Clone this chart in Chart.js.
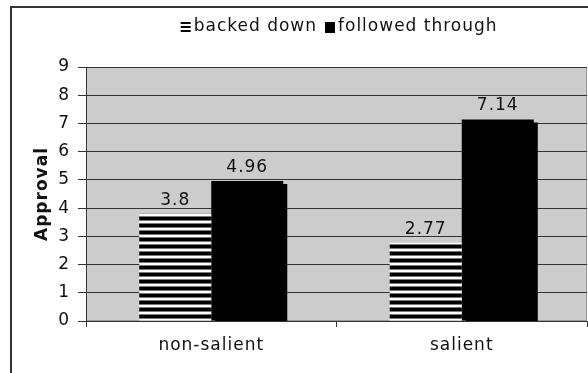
<!DOCTYPE html>
<html>
<head>
<meta charset="utf-8">
<script src="https://cdn.jsdelivr.net/npm/chart.js@4"></script>
<style>
  body { margin: 0; background: #fff; }
  /* рамка вокруг всей диаграммы (правый и нижний край за пределами окна) */
  #frame {
    position: absolute; left: 10px; top: 6px; width: 700px; height: 500px;
    border-left: 2px solid #333; border-top: 2px solid #333;
  }
  #chart { position: absolute; left: 0; top: 0; }
</style>
</head>
<body>
<div id="frame"></div>
<canvas id="chart" width="588" height="373"></canvas>
<script>
const categories = ['non-salient', 'salient'];
const seriesNames = ['backed down', 'followed through'];
const backedDown = [3.8, 2.77];
const followedThrough = [4.96, 7.14];
const yMin = 0;
const yMax = 9;

const FONT = '"DejaVu Sans", Verdana, sans-serif';
const TEXT_COLOR = '#111';

// Штриховка для серии "backed down"
function makeStripes() {
  const c = document.createElement('canvas');
  c.width = 4;
  c.height = 7;
  const g = c.getContext('2d');
  const rows = ['#000', '#000', '#000', '#777', '#fff', '#fff', '#777'];
  rows.forEach((color, i) => {
    g.fillStyle = color;
    g.fillRect(0, i, 4, 1);
  });
  return g.createPattern(c, 'repeat');
}

const ctx = document.getElementById('chart').getContext('2d');
const stripes = makeStripes();

// Разрядка букв, чтобы текст был похож на Verdana
const letterSpacing = {
  id: 'letterSpacing',
  beforeLayout(chart) { chart.ctx.letterSpacing = '1px'; },
  beforeDraw(chart) { chart.ctx.letterSpacing = '1px'; },
};

// Серый фон области построения
const plotBackground = {
  id: 'plotBackground',
  beforeDraw(chart) {
    const { ctx, chartArea: a } = chart;
    ctx.save();
    ctx.fillStyle = '#cccccc';
    ctx.fillRect(a.left, a.top, a.right - a.left, a.bottom - a.top);
    ctx.strokeStyle = '#999';
    ctx.lineWidth = 1;
    ctx.strokeRect(a.left + 0.5, a.top + 0.5, a.right - a.left - 1, a.bottom - a.top - 1);
    ctx.restore();
  },
};

// Тень у чёрных столбцов
const barShadow = {
  id: 'barShadow',
  beforeDatasetDraw(chart, args) {
    if (args.index !== 1) return;
    const c = chart.ctx;
    c.save();
    c.shadowColor = '#000';
    c.shadowOffsetX = 4;
    c.shadowOffsetY = 3;
    c.shadowBlur = 0;
  },
  afterDatasetDraw(chart, args) {
    if (args.index !== 1) return;
    chart.ctx.restore();
  },
};

// Подписи значений над столбцами
const valueLabels = {
  id: 'valueLabels',
  afterDatasetsDraw(chart) {
    const c = chart.ctx;
    c.save();
    c.font = '17px ' + FONT;
    c.fillStyle = TEXT_COLOR;
    c.textAlign = 'center';
    c.textBaseline = 'alphabetic';
    chart.data.datasets.forEach((ds, i) => {
      chart.getDatasetMeta(i).data.forEach((bar, j) => {
        c.fillText(String(ds.data[j]), bar.x, bar.y - 9);
      });
    });
    c.restore();
  },
};

// Легенда сверху: штрихованный маркер, чёрный квадрат
const topLegend = {
  id: 'topLegend',
  afterDraw(chart) {
    const c = chart.ctx;
    c.save();
    c.font = '17px ' + FONT;
    c.fillStyle = TEXT_COLOR;
    c.textBaseline = 'middle';
    const y = 27;
    const w1 = c.measureText(seriesNames[0]).width;
    const box2 = 325;
    const text1 = box2 - 8 - w1;
    const box1 = text1 - 13;
    // маркер "backed down"
    c.fillStyle = '#000';
    for (let k = 0; k < 3; k++) c.fillRect(box1, y - 5 + k * 4, 10, 2);
    c.fillStyle = TEXT_COLOR;
    c.fillText(seriesNames[0], text1, y);
    // маркер "followed through"
    c.fillStyle = '#000';
    c.fillRect(box2, y - 5, 10, 11);
    c.fillStyle = TEXT_COLOR;
    c.fillText(seriesNames[1], box2 + 13, y);
    c.restore();
  },
};

new Chart(ctx, {
  type: 'bar',
  data: {
    labels: categories,
    datasets: [
      { label: seriesNames[0], data: backedDown, backgroundColor: stripes, borderWidth: 0 },
      { label: seriesNames[1], data: followedThrough, backgroundColor: '#000', borderWidth: 0 },
    ],
  },
  options: {
    responsive: false,
    animation: false,
    layout: { padding: { left: 14, right: 1, top: 67, bottom: 0 } },
    datasets: { bar: { categoryPercentage: 0.575, barPercentage: 1 } },
    plugins: { legend: { display: false }, tooltip: { enabled: false } },
    scales: {
      x: {
        grid: { offset: true, drawOnChartArea: false, tickLength: 6, color: '#333' },
        border: { color: '#333' },
        ticks: { font: { family: FONT, size: 17 }, color: TEXT_COLOR, padding: 8 },
        afterFit(scale) { scale.height = 52; },
      },
      y: {
        min: yMin,
        max: yMax,
        ticks: { stepSize: 1, font: { family: FONT, size: 17 }, color: TEXT_COLOR, padding: 8 },
        grid: { color: '#333', tickLength: 8 },
        border: { color: '#333' },
        title: {
          display: true,
          text: 'Approval',
          color: TEXT_COLOR,
          font: { family: FONT, size: 17, weight: 'bold' },
          padding: { top: 18, bottom: 0 },
        },
        afterFit(scale) { scale.width = 72; },
      },
    },
  },
  plugins: [letterSpacing, plotBackground, barShadow, valueLabels, topLegend],
});
</script>
</body>
</html>
